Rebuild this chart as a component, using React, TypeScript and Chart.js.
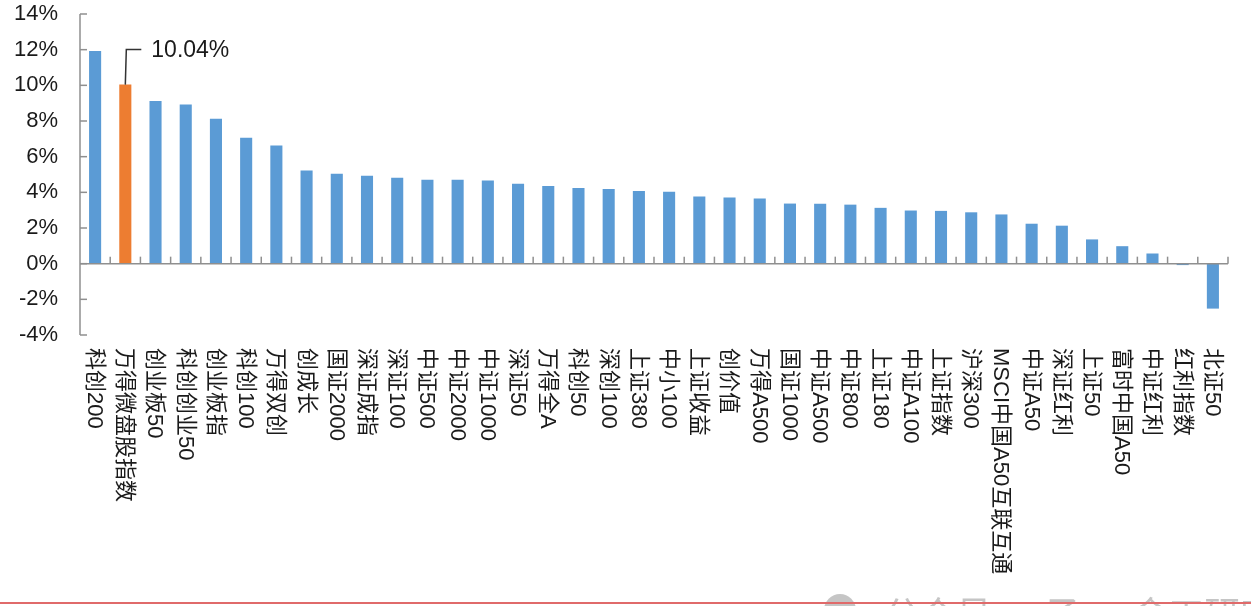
import React, { useEffect, useRef } from "react";
import { Chart, registerables } from "chart.js";

Chart.register(...registerables);

const categories: string[] = [
  "科创200", "万得微盘股指数", "创业板50", "科创创业50", "创业板指", "科创100", "万得双创",
  "创成长", "国证2000", "深证成指", "深证100", "中证500", "中证2000", "中证1000", "深证50",
  "万得全A", "科创50", "深创100", "上证380", "中小100", "上证收益", "创价值", "万得A500",
  "国证1000", "中证A500", "中证800", "上证180", "中证A100", "上证指数", "沪深300",
  "MSCI中国A50互联互通", "中证A50", "深证红利", "上证50", "富时中国A50", "中证红利",
  "红利指数", "北证50",
];

const returns: number[] = [
  11.92, 10.04, 9.12, 8.92, 8.13, 7.06, 6.62,
  5.22, 5.04, 4.93, 4.82, 4.71, 4.71, 4.67, 4.48,
  4.36, 4.24, 4.18, 4.08, 4.03, 3.76, 3.71, 3.66,
  3.37, 3.36, 3.31, 3.13, 2.98, 2.96, 2.88,
  2.76, 2.24, 2.13, 1.36, 0.98, 0.57,
  -0.08, -2.52,
];

const highlightIndex = 1;
const highlightLabel = "10.04%";
const yTicks: number[] = [-4, -2, 0, 2, 4, 6, 8, 10, 12, 14];
const watermark = "公众号 · 子 · 金工研究";

const BLUE = "#5B9BD5";
const ORANGE = "#ED7D31";
const AXIS = "#8f8f8f";

const decorPlugin = {
  id: "decor",
  afterDatasetsDraw(chart: any) {
    const { ctx, chartArea } = chart;
    const xs = chart.scales.x;
    const ys = chart.scales.y;
    const left = chartArea.left;
    const right = chartArea.right;
    const y0 = ys.getPixelForValue(0);
    const yTop = ys.getPixelForValue(yTicks[yTicks.length - 1]);
    const yBot = ys.getPixelForValue(yTicks[0]);
    const step = xs.getPixelForTick(1) - xs.getPixelForTick(0);

    ctx.save();
    ctx.strokeStyle = AXIS;
    ctx.lineWidth = 1.5;
    ctx.beginPath();
    ctx.moveTo(left, yTop);
    ctx.lineTo(left, yBot);
    ctx.stroke();
    yTicks.forEach((v) => {
      const py = ys.getPixelForValue(v);
      ctx.beginPath();
      ctx.moveTo(left, py);
      ctx.lineTo(left + 7, py);
      ctx.stroke();
    });
    ctx.beginPath();
    ctx.moveTo(left, y0);
    ctx.lineTo(right, y0);
    ctx.stroke();
    for (let i = 0; i < categories.length; i++) {
      const bx = xs.getPixelForTick(i) + step / 2;
      ctx.beginPath();
      ctx.moveTo(bx, y0);
      ctx.lineTo(bx, y0 - 7);
      ctx.stroke();
    }

    ctx.fillStyle = "#1a1a1a";
    ctx.font = '22px "Liberation Sans", "Noto Sans CJK SC", sans-serif';
    ctx.textAlign = "left";
    ctx.textBaseline = "middle";
    categories.forEach((label, i) => {
      const px = xs.getPixelForTick(i);
      ctx.save();
      ctx.translate(px - 1, 348);
      ctx.rotate(Math.PI / 2);
      ctx.fillText(label, 0, 0);
      ctx.restore();
    });

    const hx = xs.getPixelForTick(highlightIndex);
    const hy = ys.getPixelForValue(returns[highlightIndex]);
    ctx.strokeStyle = "#333333";
    ctx.lineWidth = 1.5;
    ctx.beginPath();
    ctx.moveTo(hx, hy);
    ctx.lineTo(hx + 1, hy - 35);
    ctx.lineTo(hx + 16, hy - 35);
    ctx.stroke();
    ctx.fillStyle = "#1a1a1a";
    ctx.font = '23px "Liberation Sans", sans-serif';
    ctx.textAlign = "left";
    ctx.textBaseline = "middle";
    ctx.fillText(highlightLabel, hx + 26, hy - 34);

    ctx.fillStyle = "rgba(150,150,150,0.55)";
    ctx.beginPath();
    ctx.arc(840, 610, 16, 0, Math.PI * 2);
    ctx.fill();
    ctx.font = '36px "Noto Sans CJK SC", sans-serif';
    ctx.textBaseline = "alphabetic";
    ctx.fillText(watermark, 884, 628);

    ctx.strokeStyle = "#e06a6a";
    ctx.lineWidth = 2;
    ctx.beginPath();
    ctx.moveTo(0, 603);
    ctx.lineTo(chart.width, 603);
    ctx.stroke();
    ctx.restore();
  },
};

export default function App() {
  const ref = useRef<HTMLCanvasElement>(null);
  useEffect(() => {
    if (!ref.current) return;
    const chart = new Chart(ref.current, {
      type: "bar",
      data: {
        labels: categories,
        datasets: [
          {
            data: returns,
            backgroundColor: returns.map((_, i) => (i === highlightIndex ? ORANGE : BLUE)),
            barPercentage: 0.4,
            categoryPercentage: 1,
          },
        ],
      },
      options: {
        animation: false,
        responsive: true,
        maintainAspectRatio: false,
        layout: { padding: { top: 14, right: 23, left: 0, bottom: 0 } },
        plugins: { legend: { display: false }, tooltip: { enabled: false } },
        scales: {
          x: {
            type: "category",
            grid: { display: false },
            border: { display: false },
            ticks: { display: false },
            afterFit: (s: any) => {
              s.height = 271;
              s.paddingLeft = 0;
              s.paddingRight = 0;
            },
          },
          y: {
            min: -4,
            max: 14,
            grid: { display: false },
            border: { display: false },
            ticks: {
              stepSize: 2,
              padding: 14,
              color: "#1a1a1a",
              font: { family: '"Liberation Sans", sans-serif', size: 22 },
              callback: (v: any) => `${v}%`,
            },
            afterFit: (s: any) => {
              s.width = 80;
              s.paddingTop = 0;
              s.paddingBottom = 0;
            },
          },
        },
      },
      plugins: [decorPlugin],
    });
    return () => chart.destroy();
  }, []);
  return (
    <div style={{ position: "fixed", left: 0, top: 0, width: 1251, height: 606, background: "#fff" }}>
      <canvas ref={ref} />
    </div>
  );
}
